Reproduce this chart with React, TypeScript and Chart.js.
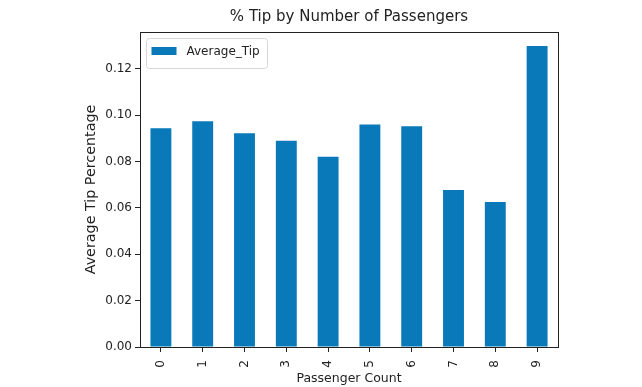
import React, { useEffect, useRef } from "react";
import { Chart, registerables } from "chart.js";

Chart.register(...registerables);

const categories = ["0", "1", "2", "3", "4", "5", "6", "7", "8", "9"];
const averageTip = [0.0943, 0.0973, 0.0921, 0.0889, 0.0820, 0.0959, 0.0952, 0.0677, 0.0625, 0.1298];
const yTicks = [0, 0.02, 0.04, 0.06, 0.08, 0.1, 0.12];
const seriesLabel = "Average_Tip";
const chartTitle = "% Tip by Number of Passengers";
const barColor = "#0979b9";
const FONT = "'DejaVu Sans', sans-serif";

const framePlugin = {
  id: "frame",
  afterDatasetsDraw(chart: any) {
    const { ctx, chartArea } = chart;
    ctx.save();
    ctx.strokeStyle = "#222";
    ctx.lineWidth = 1;
    ctx.strokeRect(
      Math.round(chartArea.left) + 0.5,
      Math.round(chartArea.top) + 0.5,
      Math.round(chartArea.right - chartArea.left),
      Math.round(chartArea.bottom - chartArea.top)
    );
    // title centred over the plot area
    ctx.fillStyle = "#222";
    ctx.font = `15px ${FONT}`;
    ctx.textAlign = "center";
    ctx.textBaseline = "alphabetic";
    ctx.fillText(chartTitle, (chartArea.left + chartArea.right) / 2, 21);
    // legend
    const ds = chart.data.datasets[0];
    const x0 = chartArea.left + 6.5;
    const y0 = chartArea.top + 6.5;
    const w = 121;
    const h = 30;
    const r = 3;
    ctx.fillStyle = "rgba(255,255,255,0.8)";
    ctx.strokeStyle = "#d6d6d6";
    ctx.beginPath();
    ctx.moveTo(x0 + r, y0);
    ctx.lineTo(x0 + w - r, y0);
    ctx.arcTo(x0 + w, y0, x0 + w, y0 + r, r);
    ctx.lineTo(x0 + w, y0 + h - r);
    ctx.arcTo(x0 + w, y0 + h, x0 + w - r, y0 + h, r);
    ctx.lineTo(x0 + r, y0 + h);
    ctx.arcTo(x0, y0 + h, x0, y0 + h - r, r);
    ctx.lineTo(x0, y0 + r);
    ctx.arcTo(x0, y0, x0 + r, y0, r);
    ctx.closePath();
    ctx.fill();
    ctx.stroke();
    ctx.fillStyle = ds.backgroundColor;
    ctx.fillRect(x0 + 5, y0 + 8.5, 25, 8);
    ctx.fillStyle = "#222";
    ctx.font = `12px ${FONT}`;
    ctx.textBaseline = "middle";
    ctx.textAlign = "left";
    ctx.fillText(ds.label, x0 + 40, y0 + 13);
    ctx.restore();
  },
};

export default function App() {
  const ref = useRef<HTMLCanvasElement | null>(null);
  useEffect(() => {
    if (!ref.current) return;
    const chart = new Chart(ref.current, {
      type: "bar",
      data: {
        labels: categories,
        datasets: [
          {
            label: seriesLabel,
            data: averageTip,
            backgroundColor: barColor,
            barPercentage: 0.5,
            categoryPercentage: 1,
          },
        ],
      },
      options: {
        animation: false,
        responsive: false,
        maintainAspectRatio: false,
        layout: { padding: { left: 0, right: 84, top: 32, bottom: 0 } },
        plugins: {
          legend: { display: false },
          tooltip: { enabled: false },
          title: { display: false },
        },
        scales: {
          x: {
            offset: true,
            grid: {
              display: true,
              offset: false,
              drawOnChartArea: false,
              drawTicks: true,
              tickLength: 5,
              color: "#222",
            },
            border: { display: true, color: "#222" },
            ticks: {
              color: "#222",
              font: { family: FONT, size: 12 },
              maxRotation: 90,
              minRotation: 90,
              padding: 8,
            },
            title: {
              display: true,
              text: "Passenger Count",
              color: "#222",
              font: { family: FONT, size: 12.5 },
              padding: { top: 0, bottom: 1 },
            },
            afterFit: (s: any) => {
              s.height = 40;
            },
          },
          y: {
            min: 0,
            max: 0.1358,
            grid: { display: true, drawOnChartArea: false, drawTicks: true, tickLength: 5, color: "#222" },
            border: { display: true, color: "#222" },
            afterBuildTicks: (s: any) => {
              s.ticks = yTicks.map((v) => ({ value: v }));
            },
            ticks: {
              color: "#222",
              font: { family: FONT, size: 12 },
              padding: 3,
              callback: (v: any) => Number(v).toFixed(2),
            },
            title: {
              display: true,
              text: "Average Tip Percentage",
              color: "#222",
              font: { family: FONT, size: 14.3 },
              padding: { top: 83, bottom: 0 },
            },
            afterFit: (s: any) => {
              s.width = 140;
            },
          },
        },
      },
      plugins: [framePlugin],
    });
    return () => chart.destroy();
  }, []);
  return (
    <div style={{ position: "fixed", left: 0, top: 0, width: 642, height: 387, background: "#fff" }}>
      <canvas ref={ref} width={642} height={387} style={{ width: 642, height: 387 }} />
    </div>
  );
}
